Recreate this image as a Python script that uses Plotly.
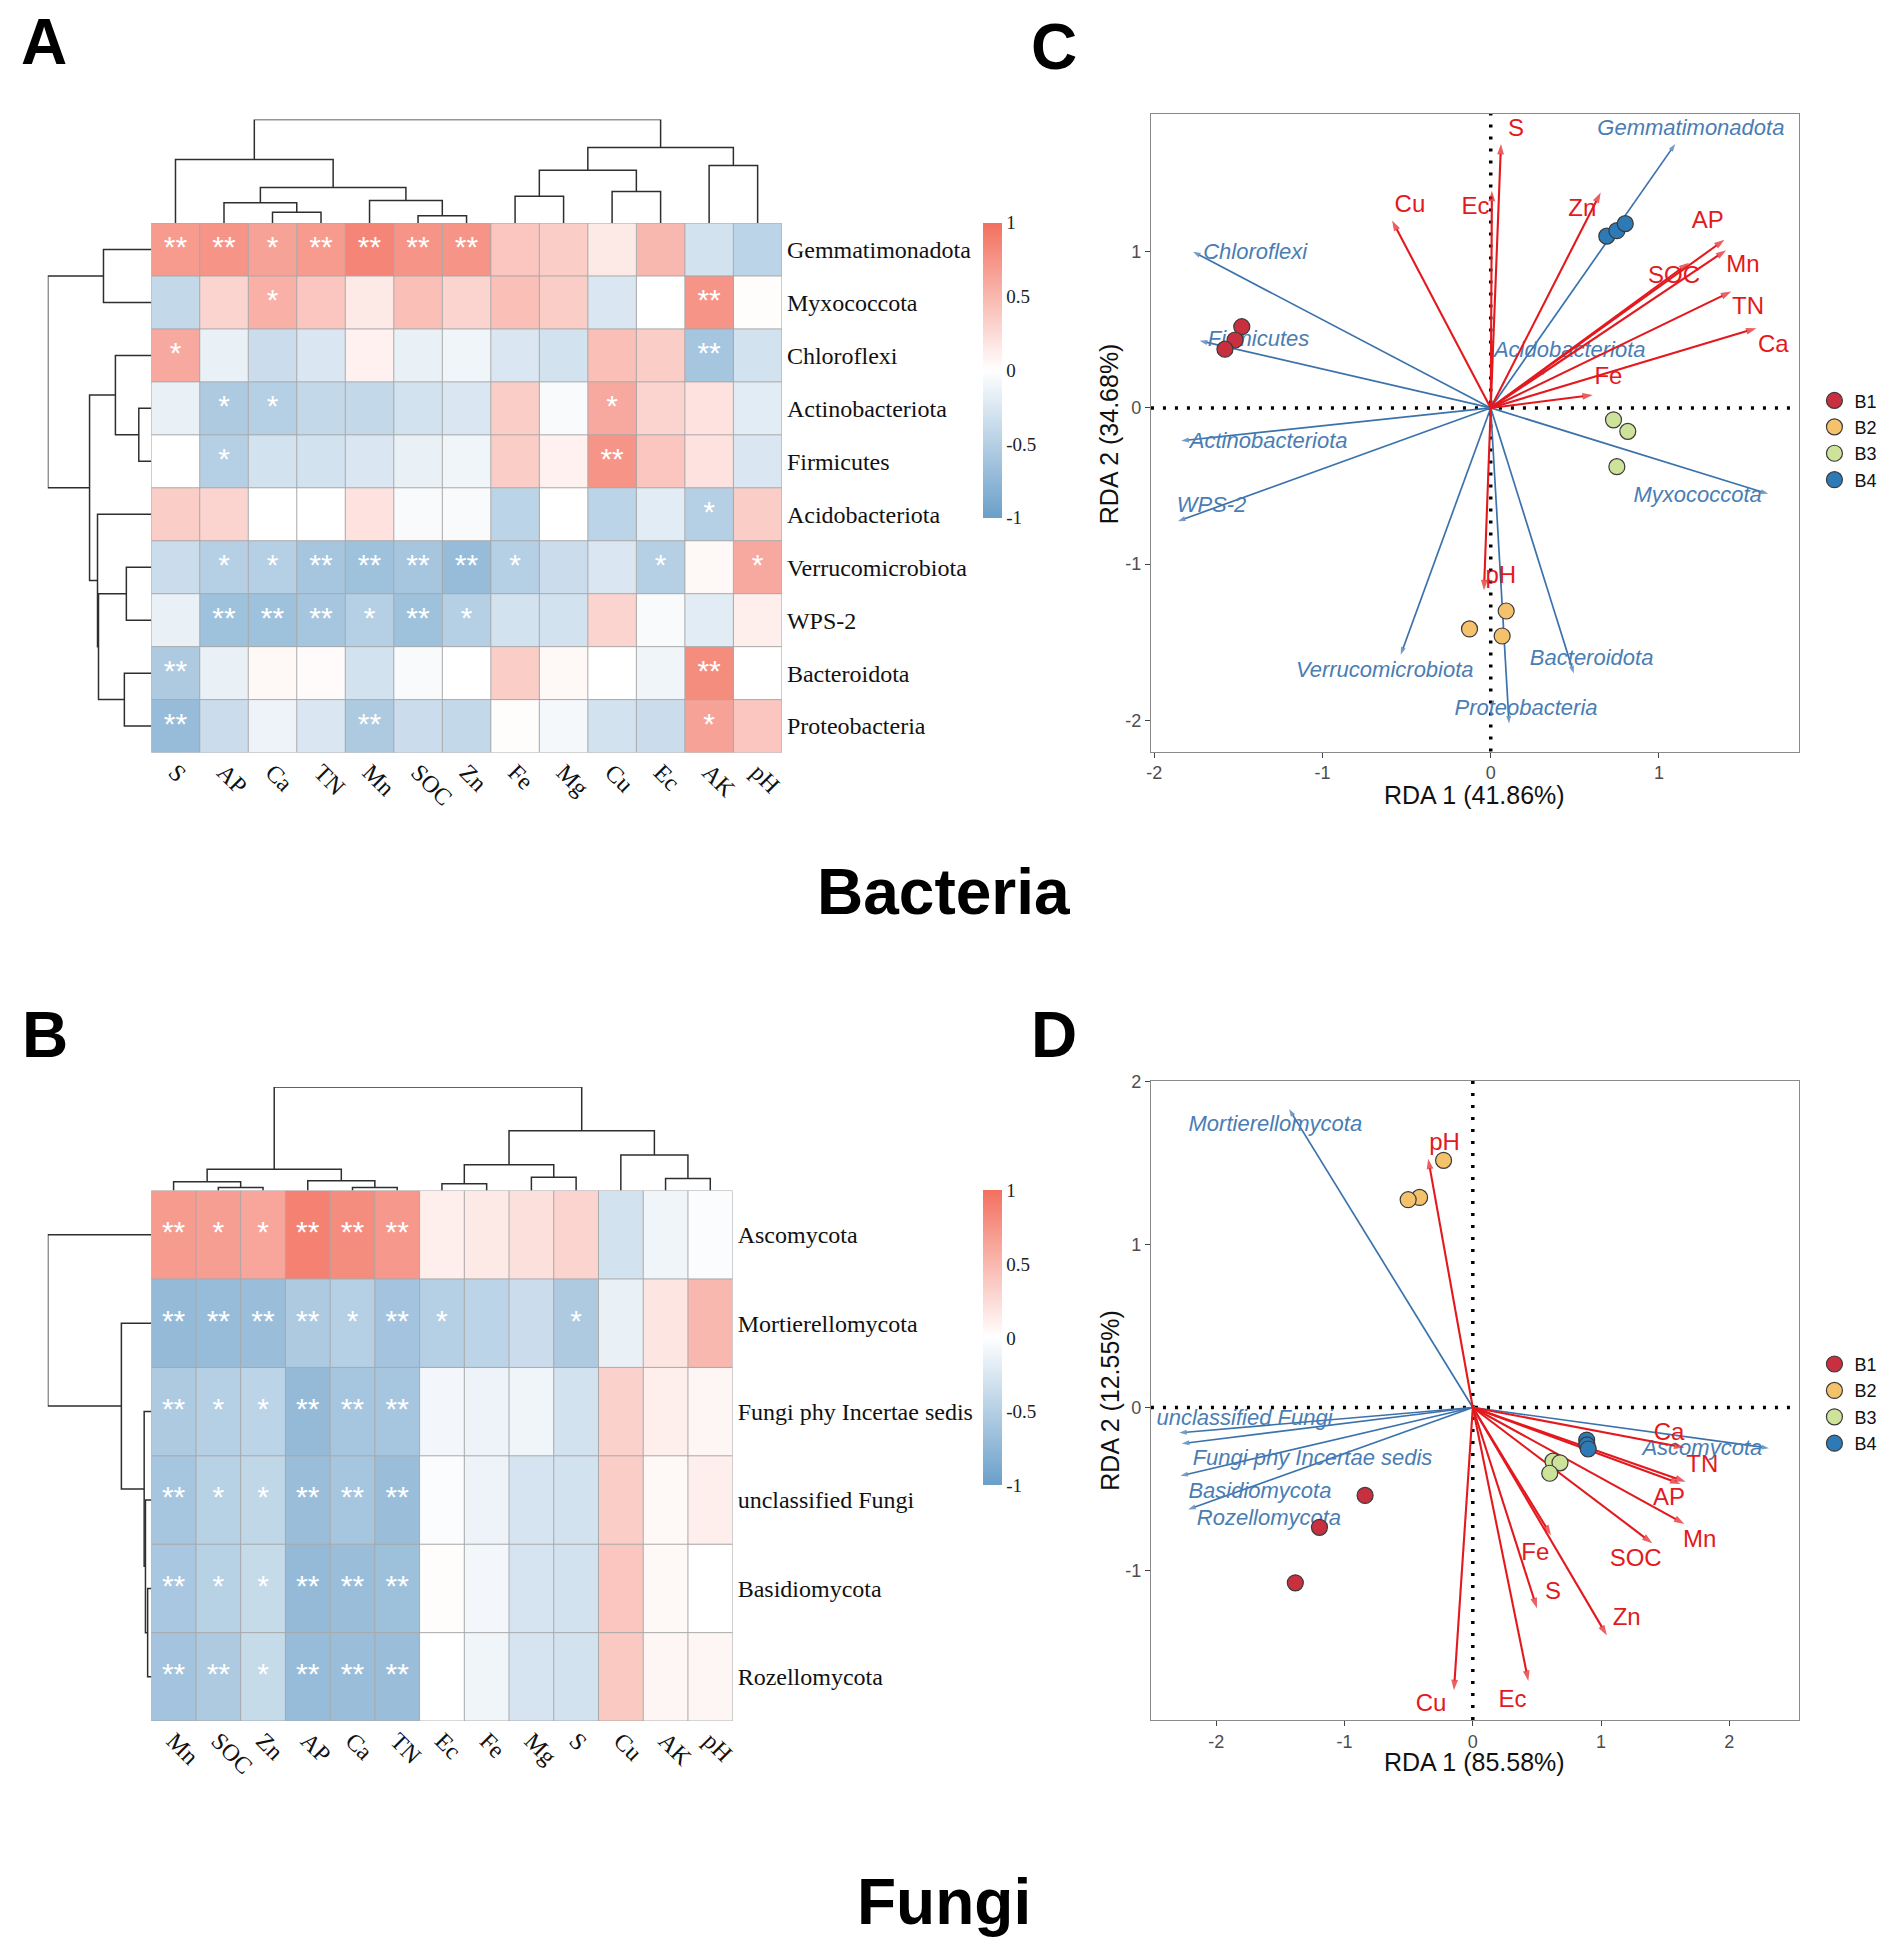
import plotly.graph_objects as go

W, H = 1901, 1952

# ---------------- DATA ----------------
# Heatmap A (bacteria)
rows_A = ["Gemmatimonadota", "Myxococcota", "Chloroflexi", "Actinobacteriota", "Firmicutes",
          "Acidobacteriota", "Verrucomicrobiota", "WPS-2", "Bacteroidota", "Proteobacteria"]
cols_A = ["S", "AP", "Ca", "TN", "Mn", "SOC", "Zn", "Fe", "Mg", "Cu", "Ec", "AK", "pH"]
corr_A = [
    [0.70, 0.75, 0.65, 0.70, 0.85, 0.75, 0.75, 0.40, 0.35, 0.15, 0.50, -0.30, -0.45],
    [-0.40, 0.30, 0.55, 0.40, 0.15, 0.45, 0.30, 0.45, 0.35, -0.25, 0.00, 0.75, 0.02],
    [0.60, -0.15, -0.35, -0.25, 0.10, -0.15, -0.10, -0.25, -0.30, 0.45, 0.35, -0.60, -0.30],
    [-0.15, -0.55, -0.50, -0.40, -0.40, -0.30, -0.25, 0.35, -0.05, 0.60, 0.30, 0.20, -0.20],
    [0.00, -0.50, -0.30, -0.30, -0.25, -0.15, -0.10, 0.35, 0.10, 0.75, 0.40, 0.20, -0.25],
    [0.35, 0.30, 0.00, 0.00, 0.20, -0.05, -0.05, -0.45, 0.00, -0.45, -0.20, -0.50, 0.35],
    [-0.35, -0.50, -0.50, -0.60, -0.65, -0.60, -0.70, -0.50, -0.35, -0.25, -0.50, 0.05, 0.60],
    [-0.15, -0.65, -0.65, -0.60, -0.50, -0.65, -0.50, -0.30, -0.30, 0.30, -0.05, -0.20, 0.12],
    [-0.55, -0.15, 0.05, 0.03, -0.30, -0.05, 0.00, 0.35, 0.05, 0.00, -0.10, 0.80, 0.00],
    [-0.70, -0.35, -0.12, -0.25, -0.55, -0.35, -0.40, 0.02, -0.07, -0.30, -0.35, 0.65, 0.40],
]
sig_A = [
    ["**", "**", "*", "**", "**", "**", "**", "", "", "", "", "", ""],
    ["", "", "*", "", "", "", "", "", "", "", "", "**", ""],
    ["*", "", "", "", "", "", "", "", "", "", "", "**", ""],
    ["", "*", "*", "", "", "", "", "", "", "*", "", "", ""],
    ["", "*", "", "", "", "", "", "", "", "**", "", "", ""],
    ["", "", "", "", "", "", "", "", "", "", "", "*", ""],
    ["", "*", "*", "**", "**", "**", "**", "*", "", "", "*", "", "*"],
    ["", "**", "**", "**", "*", "**", "*", "", "", "", "", "", ""],
    ["**", "", "", "", "", "", "", "", "", "", "", "**", ""],
    ["**", "", "", "", "**", "", "", "", "", "", "", "*", ""],
]
# dendrograms: (left node, right node, height); leaves are display indices
col_merges_A = [(2, 3, 10.8), (1, 13, 20.4), (5, 6, 7.4), (4, 15, 22.5), (14, 16, 35.6),
                (0, 17, 63.7), (7, 8, 26.9), (9, 10, 31.7), (19, 20, 52.9), (11, 12, 57.7),
                (21, 22, 75.9), (18, 23, 104.0)]
row_merges_A = [(0, 1, 48.0), (3, 4, 12.5), (2, 11, 36.0), (6, 7, 25.0), (8, 9, 27.0),
                (13, 14, 53.0), (5, 15, 54.0), (12, 16, 62.0), (10, 17, 104.0)]

# Heatmap B (fungi)
rows_B = ["Ascomycota", "Mortierellomycota", "Fungi phy Incertae sedis", "unclassified Fungi",
          "Basidiomycota", "Rozellomycota"]
cols_B = ["Mn", "SOC", "Zn", "AP", "Ca", "TN", "Ec", "Fe", "Mg", "S", "Cu", "AK", "pH"]
corr_B = [
    [0.70, 0.68, 0.62, 0.88, 0.80, 0.72, 0.12, 0.15, 0.22, 0.30, -0.30, -0.10, -0.03],
    [-0.72, -0.70, -0.68, -0.55, -0.50, -0.62, -0.50, -0.45, -0.35, -0.55, -0.15, 0.18, 0.50],
    [-0.55, -0.50, -0.45, -0.72, -0.60, -0.60, -0.08, -0.12, -0.10, -0.30, 0.32, 0.12, 0.06],
    [-0.60, -0.48, -0.42, -0.68, -0.60, -0.68, -0.03, -0.12, -0.28, -0.30, 0.35, 0.05, 0.12],
    [-0.58, -0.48, -0.38, -0.72, -0.68, -0.66, 0.02, -0.08, -0.28, -0.30, 0.40, 0.05, 0.00],
    [-0.62, -0.55, -0.38, -0.70, -0.68, -0.68, 0.00, -0.10, -0.28, -0.30, 0.38, 0.06, 0.06],
]
sig_B = [
    ["**", "*", "*", "**", "**", "**", "", "", "", "", "", "", ""],
    ["**", "**", "**", "**", "*", "**", "*", "", "", "*", "", "", ""],
    ["**", "*", "*", "**", "**", "**", "", "", "", "", "", "", ""],
    ["**", "*", "*", "**", "**", "**", "", "", "", "", "", "", ""],
    ["**", "*", "*", "**", "**", "**", "", "", "", "", "", "", ""],
    ["**", "**", "*", "**", "**", "**", "", "", "", "", "", "", ""],
]
col_merges_B = [(1, 2, 3.1), (0, 13, 8.9), (4, 5, 3.1), (3, 15, 9.8), (14, 16, 21.4),
                (6, 7, 6.7), (8, 9, 13.4), (18, 19, 25.9), (11, 12, 12.0), (10, 21, 35.7),
                (20, 22, 60.0), (17, 23, 104.0)]
row_merges_B = [(4, 5, 3.6), (3, 6, 5.8), (2, 7, 7.1), (1, 8, 30.0), (0, 9, 104.0)]

# RDA C (bacteria)
envC_names = ["S", "Ec", "Cu", "Zn", "AP", "Mn", "SOC", "TN", "Ca", "Fe", "pH"]
envC_x = [0.061, 0.007, -0.586, 0.654, 1.39, 1.40, 1.18, 1.43, 1.58, 0.607, -0.04]
envC_y = [1.69, 1.39, 1.20, 1.38, 1.077, 1.01, 0.93, 0.745, 0.51, 0.083, -1.167]
envC_lab_x = [0.15, -0.09, -0.48, 0.545, 1.29, 1.50, 1.09, 1.53, 1.68, 0.70, 0.06]
envC_lab_y = [1.78, 1.28, 1.29, 1.27, 1.19, 0.91, 0.84, 0.64, 0.395, 0.19, -1.08]
spC_names = ["Gemmatimonadota", "Chloroflexi", "Firmicutes", "Actinobacteriota", "WPS-2",
             "Acidobacteriota", "Myxococcota", "Verrucomicrobiota", "Bacteroidota", "Proteobacteria"]
spC_x = [1.097, -1.77, -1.73, -1.84, -1.86, 0.34, 1.65, -0.535, 0.494, 0.109]
spC_y = [1.69, 1.00, 0.43, -0.21, -0.725, 0.25, -0.55, -1.58, -1.70, -2.02]
spC_lab_x = [1.19, -1.40, -1.38, -1.32, -1.66, 0.47, 1.23, -0.63, 0.60, 0.21]
spC_lab_y = [1.78, 0.99, 0.43, -0.22, -0.63, 0.36, -0.57, -1.69, -1.61, -1.93]
sitesC = {
    "B1": ([-1.48, -1.52, -1.58], [0.52, 0.435, 0.376]),
    "B2": ([0.092, -0.126, 0.068], [-1.30, -1.415, -1.46]),
    "B3": ([0.73, 0.815, 0.75], [-0.076, -0.15, -0.376]),
    "B4": ([0.69, 0.75, 0.80], [1.10, 1.135, 1.18]),
}
xlabC = "RDA 1 (41.86%)"
ylabC = "RDA 2 (34.68%)"

# RDA D (fungi)
envD_names = ["pH", "Ca", "TN", "AP", "Mn", "SOC", "Fe", "S", "Zn", "Ec", "Cu"]
envD_x = [-0.348, 1.65, 1.66, 1.62, 1.65, 1.40, 0.61, 0.50, 1.045, 0.433, -0.147]
envD_y = [1.528, -0.246, -0.456, -0.47, -0.715, -0.834, -0.785, -1.233, -1.40, -1.68, -1.737]
envD_lab_x = [-0.22, 1.53, 1.79, 1.53, 1.77, 1.27, 0.487, 0.625, 1.20, 0.31, -0.326]
envD_lab_y = [1.62, -0.16, -0.36, -0.56, -0.82, -0.935, -0.90, -1.14, -1.30, -1.80, -1.83]
spD_names = ["Mortierellomycota", "unclassified Fungi", "Fungi phy Incertae sedis",
             "Basidiomycota", "Rozellomycota", "Ascomycota"]
spD_x = [-1.433, -2.29, -2.27, -2.28, -2.22, 2.31]
spD_y = [1.833, -0.156, -0.222, -0.42, -0.626, -0.25]
spD_lab_x = [-1.54, -1.78, -1.25, -1.66, -1.59, 1.79]
spD_lab_y = [1.733, -0.073, -0.32, -0.52, -0.69, -0.26]
sitesD = {
    "B1": ([-0.84, -1.196, -1.384], [-0.54, -0.736, -1.077]),
    "B2": ([-0.228, -0.415, -0.504], [1.518, 1.29, 1.276]),
    "B3": ([0.625, 0.68, 0.60], [-0.33, -0.34, -0.404]),
    "B4": ([0.888, 0.89, 0.90], [-0.20, -0.23, -0.255]),
}
xlabD = "RDA 1 (85.58%)"
ylabD = "RDA 2 (12.55%)"

# ---------------- STYLE ----------------
SERIF = "Liberation Serif, Times New Roman, serif"
SANS = "Liberation Sans, Arial, sans-serif"
colorscale = [[0.0, "#6A9FC9"], [0.5, "#FFFFFF"], [1.0, "#F3705F"]]
site_colors = {"B1": "#C8303F", "B2": "#F5C26C", "B3": "#CDE39A", "B4": "#2E7AB6"}
RED = "#E3191E"
BLUE = "#3B72AC"
BLUE_TXT = "#4A7DB3"


def dx(a, b):
    return [a / W, b / W]


def dy(top, bottom):
    return [1 - bottom / H, 1 - top / H]


def dendro(merges, n):
    pos = {i: float(i) for i in range(n)}
    hgt = {i: 0.0 for i in range(n)}
    ps, hs = [], []
    node = n
    for a, b, h in merges:
        ps += [pos[a], pos[a], pos[b], pos[b], None]
        hs += [hgt[a], h, h, hgt[b], None]
        pos[node] = (pos[a] + pos[b]) / 2.0
        hgt[node] = h
        node += 1
    return ps, hs


fig = go.Figure()
layout = dict(width=W, height=H, margin=dict(l=0, r=0, t=0, b=0),
              paper_bgcolor="white", plot_bgcolor="white", showlegend=True)


def add_heatmap(k, rows, cols, corr, sig, col_merges, row_merges, box, cb_box):
    L, R, T, B = box
    nr, nc = len(rows), len(cols)
    xa, ya = f"x{k}", f"y{k}"
    fig.add_trace(go.Heatmap(
        z=corr, x=list(range(nc)), y=list(range(nr)), zmin=-1, zmax=1,
        colorscale=colorscale, xaxis=xa, yaxis=ya, hoverinfo="skip",
        colorbar=dict(x=cb_box[0] / W, xanchor="left", xpad=0, ypad=0,
                      y=1 - (cb_box[1] + cb_box[2]) / 2 / H, yanchor="middle",
                      len=(cb_box[2] - cb_box[1]) / H, lenmode="fraction",
                      thickness=cb_box[3], outlinewidth=0, ticks="",
                      tickvals=[-1, -0.5, 0, 0.5, 1], ticktext=["-1", "-0.5", "0", "0.5", "1"],
                      tickfont=dict(family=SERIF, size=19, color="#222"))))
    gx, gy = [], []
    for j in range(nc + 1):
        gx += [j - 0.5, j - 0.5, None]
        gy += [-0.5, nr - 0.5, None]
    for i in range(nr + 1):
        gx += [-0.5, nc - 0.5, None]
        gy += [i - 0.5, i - 0.5, None]
    fig.add_trace(go.Scatter(x=gx, y=gy, mode="lines", xaxis=xa, yaxis=ya,
                             line=dict(color="#A8A8A8", width=1), hoverinfo="skip",
                             showlegend=False, cliponaxis=False))
    sx, sy, st = [], [], []
    for i in range(nr):
        for j in range(nc):
            if sig[i][j]:
                sx.append(j); sy.append(i); st.append(sig[i][j])
    fig.add_trace(go.Scatter(x=sx, y=sy, text=st, mode="text", xaxis=xa, yaxis=ya,
                             textfont=dict(family=SANS, size=30, color="white"),
                             textposition="middle center", hoverinfo="skip", showlegend=False))
    layout[f"xaxis{k}"] = dict(domain=dx(L, R), anchor=ya, range=[-0.5, nc - 0.5],
                               tickvals=list(range(nc)), ticktext=cols, tickangle=45,
                               tickfont=dict(family=SERIF, size=24, color="#111"),
                               ticks="", showgrid=False, zeroline=False, showline=False)
    layout[f"yaxis{k}"] = dict(domain=dy(T, B), anchor=xa, range=[nr - 0.5, -0.5], side="right",
                               tickvals=list(range(nr)), ticktext=rows,
                               tickfont=dict(family=SERIF, size=24, color="#111"),
                               ticks="", showgrid=False, zeroline=False, showline=False,
                               ticklabelstandoff=4)
    ps, hs = dendro(col_merges, nc)
    fig.add_trace(go.Scatter(x=ps, y=hs, mode="lines", xaxis=f"x{k+1}", yaxis=f"y{k+1}",
                             line=dict(color="#2E2E2E", width=1.5), hoverinfo="skip",
                             showlegend=False, cliponaxis=False))
    layout[f"xaxis{k+1}"] = dict(domain=dx(L, R), anchor=f"y{k+1}", range=[-0.5, nc - 0.5], visible=False)
    layout[f"yaxis{k+1}"] = dict(domain=dy(T - 104, T), anchor=f"x{k+1}", range=[0, 104], visible=False)
    ps, hs = dendro(row_merges, nr)
    fig.add_trace(go.Scatter(x=hs, y=ps, mode="lines", xaxis=f"x{k+2}", yaxis=f"y{k+2}",
                             line=dict(color="#2E2E2E", width=1.5), hoverinfo="skip",
                             showlegend=False, cliponaxis=False))
    layout[f"xaxis{k+2}"] = dict(domain=dx(L - 104, L), anchor=f"y{k+2}", range=[104, 0], visible=False)
    layout[f"yaxis{k+2}"] = dict(domain=dy(T, B), anchor=f"x{k+2}", range=[nr - 0.5, -0.5], visible=False)


add_heatmap(1, rows_A, cols_A, corr_A, sig_A, col_merges_A, row_merges_A,
            (147, 781, 215, 747), (983, 215, 511, 19))
add_heatmap(4, rows_B, cols_B, corr_B, sig_B, col_merges_B, row_merges_B,
            (147, 731.5, 1187, 1720), (983, 1187, 1483, 19))

annotations = []
shapes = []


def add_rda(k, box, xr, yr, xt, yt, env, sp, sites, legend_name, xlab, ylab, xlab_pos, ylab_pos):
    L, R, T, B = box
    xa, ya = f"x{k}", f"y{k}"
    shapes.append(dict(type="line", xref=f"{xa} domain", yref=ya, x0=0, x1=1, y0=0, y1=0,
                       line=dict(color="black", width=3.5, dash="3px,9px"), layer="below"))
    shapes.append(dict(type="line", xref=xa, yref=f"{ya} domain", x0=0, x1=0, y0=0, y1=1,
                       line=dict(color="black", width=3.5, dash="3px,9px"), layer="below"))
    names, ex, ey, lx, ly = sp
    for i in range(len(names)):
        fig.add_trace(go.Scatter(x=[0, ex[i]], y=[0, ey[i]], mode="lines+markers", xaxis=xa, yaxis=ya,
                                 line=dict(color=BLUE, width=1.7),
                                 marker=dict(symbol=["circle", "arrow"], size=[0, 8], color=BLUE,
                                             angleref="previous", line=dict(width=0)),
                                 hoverinfo="skip", showlegend=False))
    fig.add_trace(go.Scatter(x=lx, y=ly, text=names, mode="text", xaxis=xa, yaxis=ya,
                             textfont=dict(family=SANS, size=22, color=BLUE_TXT, style="italic"),
                             hoverinfo="skip", showlegend=False))
    names, ex, ey, lx, ly = env
    for i in range(len(names)):
        fig.add_trace(go.Scatter(x=[0, ex[i]], y=[0, ey[i]], mode="lines+markers", xaxis=xa, yaxis=ya,
                                 line=dict(color=RED, width=2.1),
                                 marker=dict(symbol=["circle", "arrow"], size=[0, 11], color=RED,
                                             angleref="previous", line=dict(width=0)),
                                 hoverinfo="skip", showlegend=False))
    fig.add_trace(go.Scatter(x=lx, y=ly, text=names, mode="text", xaxis=xa, yaxis=ya,
                             textfont=dict(family=SANS, size=24, color=RED),
                             hoverinfo="skip", showlegend=False))
    for g, (px, py) in sites.items():
        fig.add_trace(go.Scatter(x=px, y=py, mode="markers", name=g, xaxis=xa, yaxis=ya,
                                 legend=legend_name,
                                 marker=dict(size=16, color=site_colors[g],
                                             line=dict(color="#3A3A3A", width=1.2)),
                                 hoverinfo="skip"))
    axstyle = dict(showline=True, mirror=True, linecolor="#8A8A8A", linewidth=1.3,
                   ticks="outside", ticklen=5, tickcolor="#444", tickwidth=1.2,
                   showgrid=False, zeroline=False,
                   tickfont=dict(family=SANS, size=18, color="#4D4D4D"))
    layout[f"xaxis{k}"] = dict(domain=dx(L, R), anchor=ya, range=xr, tickvals=xt,
                               ticktext=[str(v) for v in xt], **axstyle)
    layout[f"yaxis{k}"] = dict(domain=dy(T, B), anchor=xa, range=yr, tickvals=yt,
                               ticktext=[str(v) for v in yt], **axstyle)
    annotations.append(dict(text=xlab, x=xlab_pos[0] / W, y=1 - xlab_pos[1] / H, xref="paper", yref="paper",
                            showarrow=False, font=dict(family=SANS, size=25, color="#111"),
                            xanchor="center", yanchor="middle"))
    annotations.append(dict(text=ylab, x=ylab_pos[0] / W, y=1 - ylab_pos[1] / H, xref="paper", yref="paper",
                            showarrow=False, textangle=-90, font=dict(family=SANS, size=25, color="#111"),
                            xanchor="center", yanchor="middle"))


add_rda(7, (1152, 1803, 105, 746), [-2.02, 1.83], [-2.2, 1.885], [-2, -1, 0, 1], [-2, -1, 0, 1],
        (envC_names, envC_x, envC_y, envC_lab_x, envC_lab_y),
        (spC_names, spC_x, spC_y, spC_lab_x, spC_lab_y), sitesC, "legend", xlabC, ylabC,
        (1477, 790), (1110, 427))
add_rda(8, (1152, 1803, 1077, 1719), [-2.51, 2.54], [-1.92, 2.005], [-2, -1, 0, 1, 2], [-1, 0, 1, 2],
        (envD_names, envD_x, envD_y, envD_lab_x, envD_lab_y),
        (spD_names, spD_x, spD_y, spD_lab_x, spD_lab_y), sitesD, "legend2", xlabD, ylabD,
        (1477, 1761), (1110, 1398))

legend_style = dict(xanchor="left", yanchor="top", font=dict(family=SANS, size=18, color="#111"),
                    bgcolor="rgba(0,0,0,0)", tracegroupgap=0, itemwidth=30)
layout["legend"] = dict(x=1819 / W, y=1 - 375 / H, **legend_style)
layout["legend2"] = dict(x=1819 / W, y=1 - 1343 / H, **legend_style)

for txt, cx, cy in [("A", 39, 33), ("B", 40, 1031), ("C", 1055, 38), ("D", 1055, 1031)]:
    annotations.append(dict(text=f"<b>{txt}</b>", x=cx / W, y=1 - cy / H, xref="paper", yref="paper",
                            showarrow=False, font=dict(family=SANS, size=64, color="black"),
                            xanchor="center", yanchor="middle"))
for txt, cx, cy in [("Bacteria", 943, 887), ("Fungi", 944, 1902)]:
    annotations.append(dict(text=f"<b>{txt}</b>", x=cx / W, y=1 - cy / H, xref="paper", yref="paper",
                            showarrow=False, font=dict(family=SANS, size=64, color="black"),
                            xanchor="center", yanchor="middle"))

layout["annotations"] = annotations
layout["shapes"] = shapes
fig.update_layout(**layout)
fig.write_html("out.html", config={"displayModeBar": False},
               post_script="document.body.style.margin='0px';")
